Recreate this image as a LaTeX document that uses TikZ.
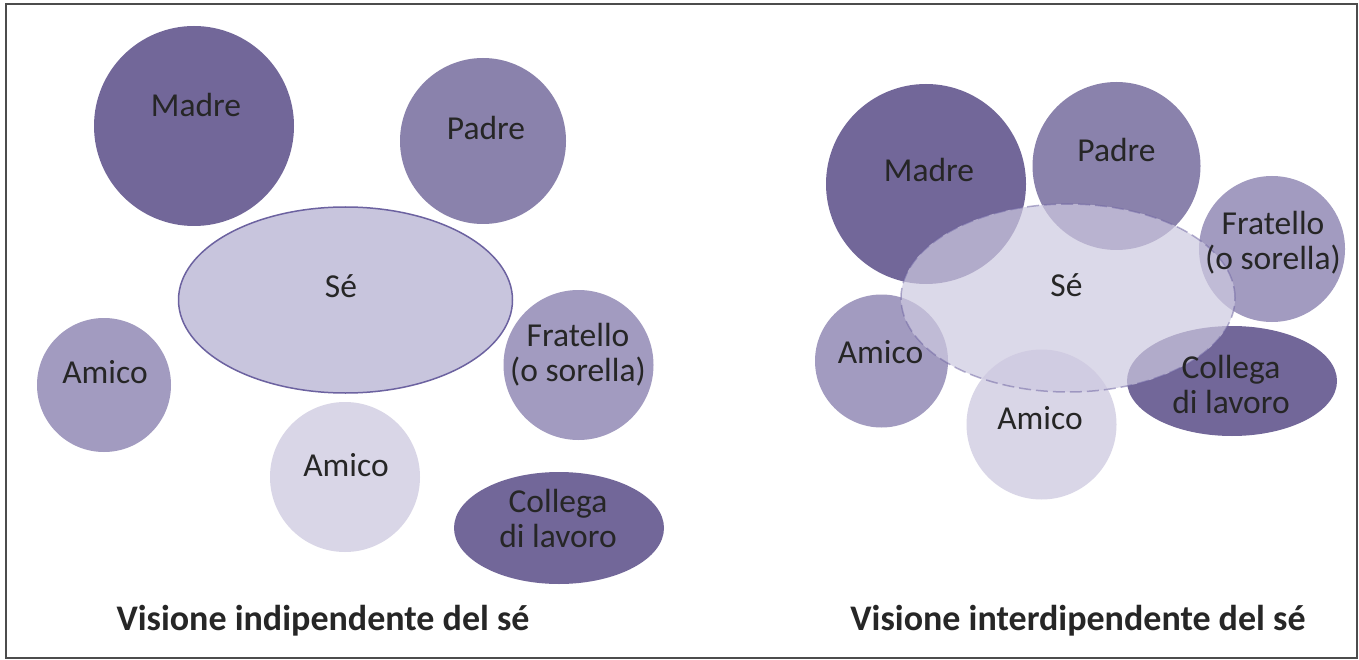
\documentclass[tikz,border=0pt]{standalone}
\usepackage{fontspec}
\setmainfont{Carlito}
\begin{document}
\begin{tikzpicture}[x=1pt,y=-1pt,
  lbl/.style={font=\fontsize{33.5}{35}\selectfont, text=black!85, align=center, inner sep=0pt},
  ttl/.style={font=\fontsize{36}{40}\selectfont\bfseries, text=black!85, inner sep=0pt}]
\definecolor{cDark}{HTML}{726799}
\definecolor{cMid}{HTML}{8A82AC}
\definecolor{cLight}{HTML}{A29BC0}
\definecolor{cPale}{HTML}{D9D6E7}
\definecolor{cSe}{HTML}{C8C5DD}
\definecolor{cSeR}{HTML}{CDC9E0}
\definecolor{cEdge}{HTML}{6C62A0}
\useasboundingbox (0,0) rectangle (1359,660);
\fill[white] (0,0) rectangle (1359,660);
\draw[line width=2pt, black!70] (6,4.5) rectangle (1357,658);
% ---------- left panel ----------
\fill[cDark]  (194,126) circle [radius=100pt];
\fill[cMid]   (483,141) circle [radius=83pt];
\filldraw[fill=cSe, draw=cEdge, line width=1.5pt] (345.5,300) ellipse [x radius=167pt, y radius=93pt];
\fill[cLight] (104,385) circle [radius=67pt];
\fill[cLight] (578.5,365) circle [radius=75pt];
\fill[cPale]  (345,477) circle [radius=75pt];
\fill[cDark]  (559,528) ellipse [x radius=105pt, y radius=56pt];
\node[lbl] (madreL) at (196,105) {Madre};
\node[lbl] (padreL) at (486,128) {Padre};
\node[lbl] (seL) at (341,286) {Sé};
\node[lbl] (amicoL1) at (105,372) {Amico};
\node[lbl] (fratL) at (578,355) {Fratello\\(o sorella)};
\node[lbl] (amicoL2) at (346,465) {Amico};
\node[lbl] (collL) at (558,518) {Collega\\di lavoro};
\node[ttl] (titleL) at (323,621) {Visione indipendente del sé};
% ---------- right panel ----------
\fill[cDark]  (926,184) circle [radius=100pt];
\fill[cMid]   (1116.5,166) circle [radius=84pt];
\fill[cLight] (1272,249) circle [radius=73pt];
\fill[cLight] (881.5,361) circle [radius=66.5pt];
\fill[cPale]  (1041.5,424.5) circle [radius=75pt];
\fill[cDark]  (1232,381) ellipse [x radius=105pt, y radius=55pt];
\fill[cSeR, fill opacity=0.7] (1068,298) ellipse [x radius=167pt, y radius=94pt];
\draw[cEdge, draw opacity=0.5, line width=1.5pt, dash pattern=on 12pt off 5pt] (1068,298) ellipse [x radius=167pt, y radius=94pt];
\node[lbl] (madreR) at (929,170) {Madre};
\node[lbl] (padreR) at (1116.5,150) {Padre};
\node[lbl] (fratR) at (1273,243) {Fratello\\(o sorella)};
\node[lbl] (seR) at (1066.5,285) {Sé};
\node[lbl] (amicoR1) at (880.5,352) {Amico};
\node[lbl] (amicoR2) at (1040,418) {Amico};
\node[lbl] (collR) at (1231,384) {Collega\\di lavoro};
\node[ttl] (titleR) at (1078,621) {Visione interdipendente del sé};
\end{tikzpicture}
\end{document}
